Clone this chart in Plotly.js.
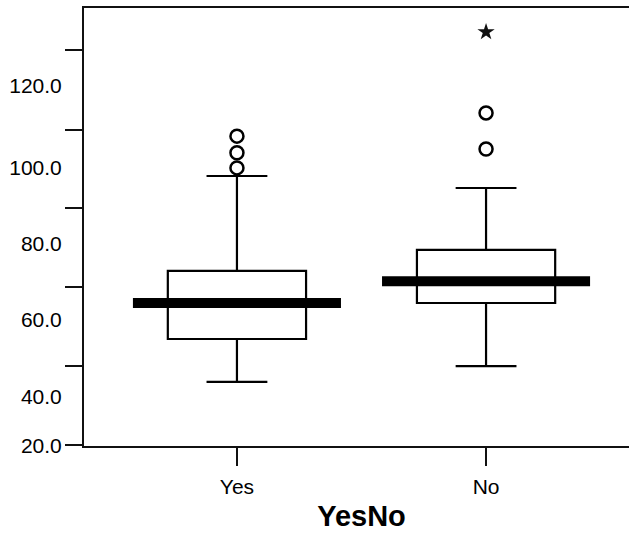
<!DOCTYPE html>
<html>
<head>
<meta charset="utf-8">
<script src="https://cdn.plot.ly/plotly-3.0.1.min.js"></script>
<style>
html, body { margin: 0; padding: 0; overflow: hidden; background: #fff; }
#chart { width: 649px; height: 533px; }
</style>
</head>
<body>
<div id="chart"></div>
<script>
// Data
var categories = ["Yes", "No"];
var q1Values = [55.2, 64.5];
var medianValues = [64.5, 70.1];
var q3Values = [72.8, 78.2];
var lowerWhisker = [44.1, 48.2];
var upperWhisker = [97.3, 94.2];

var outlierCats = ["Yes", "Yes", "Yes", "No", "No"];
var outlierValues = [107.6, 103.3, 99.4, 113.6, 104.3];
var extremeCats = ["No"];
var extremeValues = [134.5];

var yTickLabels = ["20.0", "40.0", "60.0", "80.0", "100.0", "120.0"];
var yLabelPositions = [27.6, 40.2, 60.1, 79.9, 99.4, 120.6];
var yTickMarks = [27.8, 48.2, 68.6, 89.0, 109.3, 129.9];

var yRange = [27.56, 140.7];

var traces = [
  {
    type: "box",
    x: categories,
    q1: q1Values,
    median: medianValues,
    q3: q3Values,
    lowerfence: lowerWhisker,
    upperfence: upperWhisker,
    boxpoints: false,
    width: 0.555,
    whiskerwidth: 0.44,
    fillcolor: "#ffffff",
    line: { color: "#000000", width: 2.2 },
    hoverinfo: "skip",
    showlegend: false
  },
  {
    type: "scatter",
    mode: "markers",
    x: categories,
    y: medianValues,
    marker: { symbol: "line-ew-open", size: 148.6, color: "#000000",
              line: { color: "#000000", width: 10 } },
    hoverinfo: "skip",
    showlegend: false
  },
  {
    type: "scatter",
    mode: "markers",
    x: outlierCats,
    y: outlierValues,
    marker: { symbol: "circle-open", size: 13, color: "#000000",
              line: { color: "#000000", width: 2.5 } },
    showlegend: false
  },
  {
    type: "scatter",
    mode: "markers",
    x: extremeCats,
    y: extremeValues,
    marker: { symbol: "star", size: 13, color: "#111111",
              line: { width: 0 } },
    showlegend: false
  },
  {
    // invisible trace to anchor the label axis
    type: "scatter",
    mode: "markers",
    x: categories,
    y: medianValues,
    yaxis: "y2",
    marker: { opacity: 0 },
    hoverinfo: "skip",
    showlegend: false
  }
];

var layout = {
  width: 649,
  height: 533,
  margin: { l: 84, r: 10, t: 8, b: 87 },
  paper_bgcolor: "#ffffff",
  plot_bgcolor: "#ffffff",
  font: { family: "Liberation Sans, Arial, sans-serif", color: "#000000" },
  showlegend: false,
  xaxis: {
    type: "category",
    range: [-0.614, 1.614],
    showgrid: false,
    zeroline: false,
    showline: true,
    mirror: true,
    linecolor: "#111111",
    linewidth: 2,
    ticks: "outside",
    ticklen: 18,
    tickwidth: 2,
    tickcolor: "#111111",
    ticklabelstandoff: 3,
    tickfont: { size: 21, color: "#000000" },
    title: { text: "<b>YesNo</b>", font: { size: 29, color: "#000000" }, standoff: 8 }
  },
  yaxis: {
    range: yRange,
    showgrid: false,
    zeroline: false,
    showline: true,
    linecolor: "#111111",
    linewidth: 2,
    ticks: "outside",
    ticklen: 17,
    tickwidth: 2,
    tickcolor: "#111111",
    tickmode: "array",
    tickvals: yTickMarks,
    showticklabels: false
  },
  yaxis2: {
    overlaying: "y",
    side: "left",
    range: yRange,
    showgrid: false,
    zeroline: false,
    showline: false,
    ticks: "outside",
    ticklen: 17,
    tickcolor: "rgba(0,0,0,0)",
    tickmode: "array",
    tickvals: yLabelPositions,
    ticktext: yTickLabels,
    tickfont: { size: 21, color: "#000000" }
  }
};

Plotly.newPlot("chart", traces, layout, { staticPlot: true, displayModeBar: false });
</script>
</body>
</html>
